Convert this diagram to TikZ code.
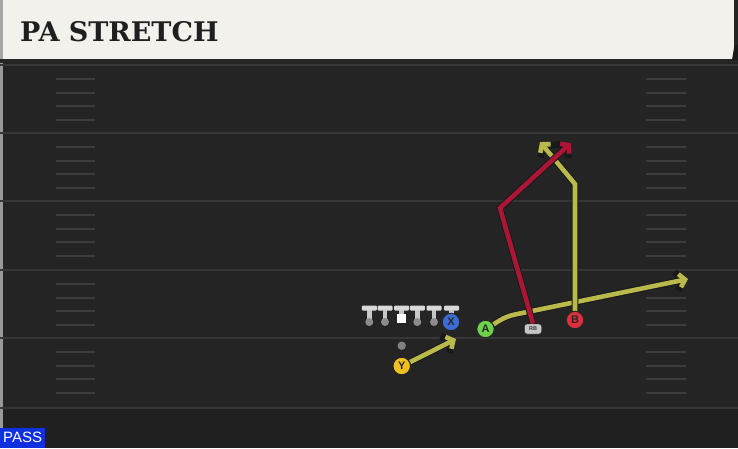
\documentclass[tikz,border=0pt]{standalone}
\usepackage{fontspec}
\setmainfont{Liberation Sans}
\newfontfamily\titlefont{DejaVu Serif}
\usetikzlibrary{arrows.meta}
\definecolor{fieldbg}{HTML}{242424}
\definecolor{fieldlow}{HTML}{202020}
\definecolor{yardc}{HTML}{363636}
\definecolor{hashc}{HTML}{3C3C3C}
\definecolor{cream}{HTML}{F3F1EB}
\definecolor{yroutec}{HTML}{B9B94C}
\definecolor{rroutec}{HTML}{AC1636}
\definecolor{xblue}{HTML}{3B6CD6}
\definecolor{agreen}{HTML}{6DD14B}
\definecolor{bred}{HTML}{DF2F3F}
\definecolor{yyellow}{HTML}{F2C01E}
\definecolor{passblue}{HTML}{1030E0}
\pgfdeclarelayer{field}
\pgfdeclarelayer{routes}
\pgfsetlayers{field,routes,main}
\tikzset{
  yard/.style={draw=yardc, line width=2.2pt},
  hashmark/.style={draw=hashc, line width=2pt},
  player/.style={circle, draw=black!85, line width=1pt, minimum size=17.5pt, inner sep=0pt,
    font=\fontsize{11}{11}\selectfont\bfseries, text=black!85},
  route/.style={line width=4.6pt, line cap=butt, line join=miter,
    -{Straight Barb[length=0pt 1.2, width=0pt 2.9]}},
  yroute/.style={route, draw=yroutec, preaction={draw=black!90, line width=6.6pt}},
  rroute/.style={route, draw=rroutec, preaction={draw=black!90, line width=6.6pt}},
  lbar/.style={fill=black!15, rounded corners=1pt},
}
\begin{document}
\begin{tikzpicture}[x=1pt,y=-1pt]
\useasboundingbox (0,0) rectangle (738,448);
\begin{pgfonlayer}{field}
\fill[fieldbg] (0,0) rectangle (738,448);
\fill[fieldlow] (0,409) rectangle (738,448);
\fill[black!40] (0,0) rectangle (2.5,430);
\fill[black!85] (0,59) rectangle (738,63);
\foreach \yy in {65,133,201,270,338,408} {
  \draw[yard] (0,\yy) -- (738,\yy);
}
\foreach \yy in {65,133,201,270,338} {
  \foreach \k in {1,2,3,4} {
    \draw[hashmark] (56,\yy+13.8*\k) -- (95,\yy+13.8*\k);
    \draw[hashmark] (646,\yy+13.8*\k) -- (686,\yy+13.8*\k);
  }
}
\fill[cream] (3,0) rectangle (734,59);
\fill[black!35] (0,0) rectangle (3,59);
\fill[black!90] (734,48) -- (738,44) -- (738,60) -- (732,60) -- cycle;
\end{pgfonlayer}

\node[anchor=base west, inner sep=0pt, text=black!88,
  font=\titlefont\bfseries\fontsize{27}{27}\selectfont] (title) at (20,41) {PA STRETCH};

% linemen
\foreach \cx in {369.3,385,417.3,434,451.5} {
  \fill[lbar] (\cx-7.5,305.5) rectangle (\cx+7.5,310.5);
  \fill[black!22] (\cx-2.4,310) rectangle (\cx+2.4,320);
  \fill[black!45] (\cx,322) circle (4);
}
\fill[lbar] (401.7-7.5,305.5) rectangle (401.7+7.5,310.5);
\fill[black!22] (401.7-2.4,310) rectangle (401.7+2.4,315);
\fill[white] (401.7-4.3,314) rectangle (401.7+4.3,322.5);

\fill[black!50] (401.7,345.7) circle (4.2) coordinate (qb);

\node[player, fill=xblue] (X) at (451,322) {X};
\node[player, fill=agreen] (A) at (485.5,329) {A};
\node[player, fill=bred] (B) at (575,320) {B};
\node[player, fill=yyellow] (Y) at (401.7,366) {Y};
\node[draw=black!85, fill=black!22, rounded corners=2.5pt, minimum width=17pt, minimum height=10pt,
  inner sep=0pt, font=\fontsize{5.5}{5.5}\selectfont\bfseries, text=black!80] (RB) at (533,329) {RB};

\coordinate (yEnd) at (456,339);
\coordinate (aBend) at (515,314.5);
\coordinate (aEnd) at (688,279);
\coordinate (bTurn) at (575,184);
\coordinate (bEnd) at (540,142);
\coordinate (rTurn) at (500,208);
\coordinate (rEnd) at (571,143);

\begin{pgfonlayer}{routes}
\draw[yroute] (Y.25) -- (yEnd);
\draw[yroute] (A.30) .. controls (503,318) and (508,316) .. (aBend) -- (aEnd);
\draw[yroute] (B.north) -- (bTurn) -- (bEnd);
\draw[rroute] (RB.north) -- (rTurn) -- (rEnd);
\end{pgfonlayer}

\node[fill=passblue, text=white, anchor=south west, inner sep=0pt, minimum width=45pt, minimum height=20pt,
  font=\fontsize{15}{15}\selectfont] (pass) at (0,448) {PASS};
\end{tikzpicture}
\end{document}
